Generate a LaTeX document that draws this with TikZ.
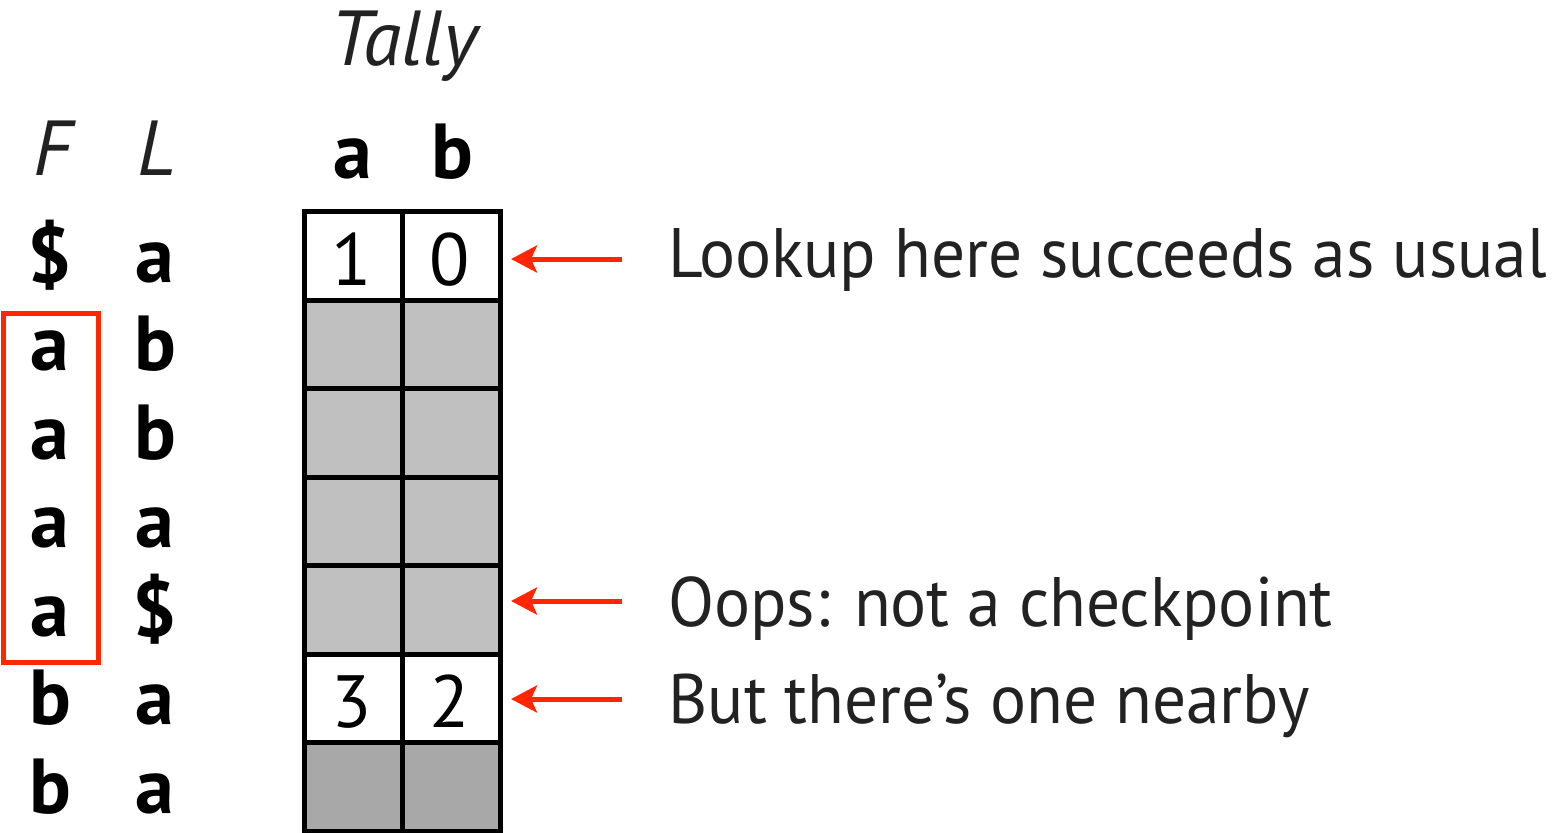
\documentclass[tikz,border=0pt]{standalone}
\usepackage{fontspec}
\setmainfont{PT Sans}
\newfontfamily\lblfont[FakeStretch=0.962]{PT Sans}
\usetikzlibrary{arrows.meta}
\definecolor{myred}{RGB}{255,38,0}
\definecolor{txt}{RGB}{34,34,34}
\definecolor{lgray}{RGB}{192,192,192}
\definecolor{dgray}{RGB}{168,168,168}
\begin{document}
\begin{tikzpicture}[x=0.5pt,y=-0.5pt,
 cell/.style={draw=black,line width=2.5pt,minimum width=49pt,minimum height=44.25pt,inner sep=0pt,outer sep=0pt},
 sym/.style={anchor=base,font=\fontsize{39}{44}\selectfont\bfseries,inner sep=0pt},
 hdr/.style={anchor=base,font=\fontsize{39}{44}\selectfont\itshape,text=txt,inner sep=0pt},
 num/.style={anchor=base,font=\fontsize{37}{42}\selectfont,inner sep=0pt},
 lbl/.style={anchor=base west,font=\lblfont\fontsize{35}{40}\selectfont,text=txt,inner sep=0pt},
 ptr/.style={draw=myred,line width=2.5pt,-{Stealth[length=13pt,width=13.5pt,inset=3pt]}},
 redbox/.style={draw=myred,line width=2.5pt,minimum width=47.5pt,minimum height=174.5pt,inner sep=0pt,outer sep=0pt},
]
\useasboundingbox (0,0) rectangle (1552,832);
% table cells
\foreach \r/\f in {1/white,2/lgray,3/lgray,4/lgray,5/lgray,6/white,7/dgray} {
  \node[cell,fill=\f] (a\r) at (353,{211.5+88.5*(\r-0.5)}) {};
  \node[cell,fill=\f] (b\r) at (451,{211.5+88.5*(\r-0.5)}) {};
}
% tally numbers
\node[num] (n1a) at (352,285) {1};
\node[num] (n1b) at (450,285) {0};
\node[num] (n6a) at (352,727.5) {3};
\node[num] (n6b) at (450,727.5) {2};
% headers
\node[hdr] (tally) at (404,65) {Tally};
\node[hdr] (hF) at (53,175) {F};
\node[hdr] (hL) at (157,175) {L};
\node[sym] (ha) at (353,178) {a};
\node[sym] (hb) at (452,178) {b};
% F and L columns
\foreach \r/\fc/\lc in {1/\$/a,2/a/b,3/a/b,4/a/a,5/a/\$,6/b/a,7/b/a} {
  \node[sym] (f\r) at (50,{282+88.5*(\r-1)}) {\fc};
  \node[sym] (l\r) at (155,{282+88.5*(\r-1)}) {\lc};
}
% red box
\node[redbox] (box) at (51,487.5) {};
% arrows and labels
\coordinate (s1) at (622,259);
\coordinate (t1) at (511,259);
\coordinate (s5) at (622,601);
\coordinate (t5) at (511,601);
\coordinate (s6) at (622,699);
\coordinate (t6) at (511,699);
\draw[ptr] (s1) -- (t1);
\draw[ptr] (s5) -- (t5);
\draw[ptr] (s6) -- (t6);
\node[lbl] (lab1) at (668,277) {Lookup here succeeds as usual};
\node[lbl] (lab5) at (668,626) {Oops: not a checkpoint};
\node[lbl] (lab6) at (668,723) {But there’s one nearby};
\end{tikzpicture}
\end{document}
